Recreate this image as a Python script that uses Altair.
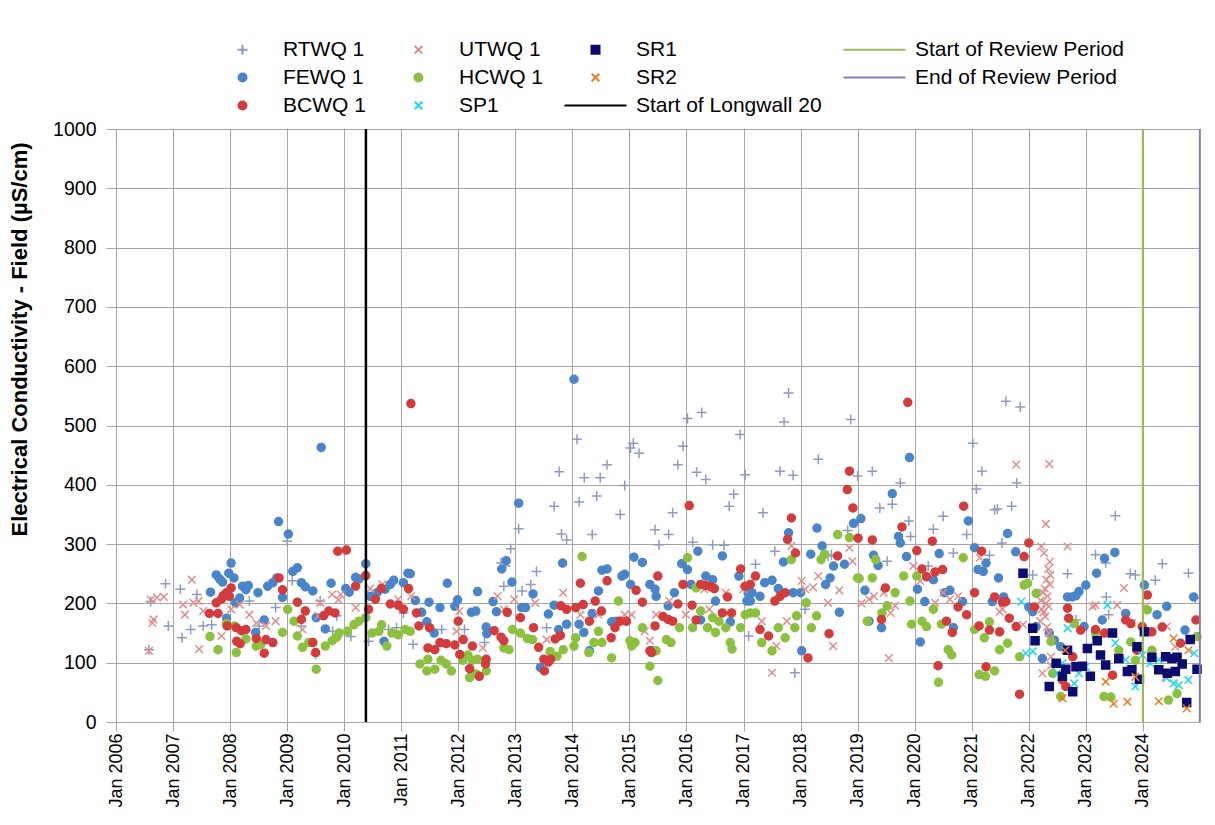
import altair as alt
import pandas as pd

# ---------------- data (decimal year, µS/cm) ----------------
RTWQ = [(2006.58,122),(2006.61,203),(2006.87,233),(2006.92,162),(2007.13,224),(2007.16,142),(2007.31,156),
        (2007.42,215),(2007.53,162),(2007.68,164),(2008.34,204),(2008.51,162),(2008.80,193),(2009.00,305),
        (2009.09,238),(2009.25,162),(2009.50,114),(2009.58,204),(2009.80,153),(2009.87,179),(2010.12,144),
        (2010.43,136),(2010.78,156),(2010.92,159),(2011.04,184),(2011.21,131),(2011.71,156),(2012.11,156),
        (2012.46,134),(2012.75,268),(2012.80,229),(2012.83,263),(2012.92,292),(2013.06,326),(2013.12,221),
        (2013.27,232),(2013.37,254),(2013.55,159),(2013.68,364),(2013.77,422),(2013.81,317),(2013.90,307),
        (2014.08,477),(2014.12,371),(2014.21,412),(2014.35,316),(2014.43,381),(2014.49,412),(2014.61,434),
        (2014.84,350),(2014.92,399),(2015.02,462),(2015.07,470),(2015.17,453),(2015.45,324),(2015.52,299),
        (2015.69,316),(2015.76,353),(2015.85,434),(2015.94,465),(2016.02,512),(2016.11,303),(2016.18,421),
        (2016.27,522),(2016.34,409),(2016.46,299),(2016.66,298),(2016.75,364),(2016.83,384),(2016.94,485),
        (2017.03,417),(2017.09,145),(2017.21,266),(2017.34,353),(2017.55,288),(2017.64,423),(2017.71,506),
        (2017.79,555),(2017.87,416),(2017.90,83),(2018.08,190),(2018.31,443),(2018.48,280),(2018.54,282),
        (2018.83,323),(2018.88,510),(2019.00,415),(2019.26,423),(2019.39,361),(2019.52,271),(2019.61,367),
        (2019.75,403),(2019.90,339),(2019.93,313),(2020.24,263),(2020.33,325),(2020.50,347),(2020.68,285),
        (2020.91,316),(2021.02,470),(2021.08,393),(2021.18,423),(2021.31,281),(2021.40,358),(2021.45,359),
        (2021.53,302),(2021.60,541),(2021.70,364),(2021.79,403),(2021.85,531),(2022.07,248),(2022.68,250),
        (2022.83,172),(2023.17,282),(2023.35,268),(2023.36,211),(2023.40,181),(2023.52,348),(2023.78,250),
        (2023.87,248),(2024.22,239),(2024.34,267),(2024.80,251),(2024.92,209)]

FEWQ = [(2007.66,219),(2007.76,248),(2007.82,241),(2007.87,236),(2007.94,175),(2007.98,251),(2008.02,268),
        (2008.07,243),(2008.10,201),(2008.17,209),(2008.22,229),(2008.28,223),(2008.32,230),(2008.45,151),
        (2008.49,218),(2008.60,172),(2008.66,229),(2008.75,235),(2008.82,243),(2008.85,338),(2008.92,210),
        (2009.02,317),(2009.10,254),(2009.18,260),(2009.25,235),(2009.32,228),(2009.45,221),(2009.51,176),
        (2009.60,463),(2009.67,157),(2009.77,234),(2010.03,225),(2010.09,219),(2010.20,244),(2010.26,241),
        (2010.38,267),(2010.46,212),(2010.58,218),(2010.70,136),(2010.72,224),(2010.81,232),(2010.87,239),
        (2011.04,235),(2011.12,251),(2011.16,250),(2011.25,205),(2011.36,185),(2011.45,169),(2011.49,202),
        (2011.58,150),(2011.68,193),(2011.81,234),(2011.94,195),(2011.99,206),(2012.23,185),(2012.31,187),
        (2012.34,220),(2012.49,160),(2012.50,149),(2012.61,203),(2012.67,186),(2012.76,258),(2012.84,272),
        (2012.94,236),(2013.06,369),(2013.11,193),(2013.18,193),(2013.31,216),(2013.44,92),(2013.58,182),
        (2013.68,197),(2013.76,156),(2013.83,268),(2013.90,165),(2014.03,578),(2014.12,165),(2014.20,151),
        (2014.30,120),(2014.35,183),(2014.46,221),(2014.52,256),(2014.61,258),(2014.69,169),(2014.78,170),
        (2014.87,246),(2014.92,249),(2015.02,232),(2015.08,278),(2015.23,269),(2015.36,232),(2015.40,120),
        (2015.45,224),(2015.47,212),(2015.68,196),(2015.79,218),(2015.92,267),(2016.02,257),(2016.08,232),
        (2016.20,288),(2016.25,172),(2016.34,246),(2016.46,240),(2016.51,204),(2016.63,280),(2016.77,169),
        (2016.92,246),(2017.06,204),(2017.08,218),(2017.12,204),(2017.15,218),(2017.29,212),(2017.37,235),
        (2017.50,239),(2017.61,225),(2017.70,270),(2017.79,319),(2017.87,218),(2018.00,218),(2018.02,120),
        (2018.18,283),(2018.29,327),(2018.38,297),(2018.44,232),(2018.52,243),(2018.58,263),(2018.68,185),
        (2018.77,266),(2018.93,335),(2019.06,343),(2019.13,222),(2019.20,170),(2019.28,281),(2019.36,264),
        (2019.42,159),(2019.61,385),(2019.72,313),(2019.75,302),(2019.86,279),(2019.91,446),(2020.05,224),
        (2020.10,135),(2020.18,203),(2020.33,240),(2020.43,284),(2020.53,218),(2020.62,222),(2020.68,159),
        (2020.84,203),(2020.94,339),(2021.05,294),(2021.11,257),(2021.20,254),(2021.25,268),(2021.36,203),
        (2021.47,243),(2021.56,211),(2021.63,318),(2021.77,287),(2022.00,194),(2022.07,186),(2022.13,161),
        (2022.24,107),(2022.36,150),(2022.45,138),(2022.56,127),(2022.68,211),(2022.76,211),(2022.83,213),
        (2022.88,220),(2022.97,161),(2023.00,231),(2023.19,251),(2023.29,172),(2023.33,276),(2023.51,286),
        (2023.70,183),(2024.03,231),(2024.25,181),(2024.42,195),(2024.74,155),(2024.89,211)]

UTWQ = [(2006.58,120),(2006.61,206),(2006.64,167),(2006.66,173),(2006.72,210),(2006.84,211),(2007.18,198),
        (2007.21,181),(2007.33,240),(2007.36,201),(2007.45,204),(2007.46,123),(2007.53,187),(2007.85,145),
        (2008.02,190),(2008.17,198),(2008.34,181),(2008.46,167),(2008.63,162),(2008.80,170),(2009.27,156),
        (2009.55,179),(2009.58,201),(2009.79,215),(2009.90,206),(2009.94,215),(2010.20,193),(2010.46,225),
        (2010.67,232),(2010.95,207),(2011.18,212),(2011.97,153),(2012.02,187),(2012.17,106),(2012.43,125),
        (2012.69,212),(2012.80,190),(2012.98,207),(2013.35,201),(2013.55,139),(2013.84,218),(2014.14,181),
        (2014.46,181),(2014.92,181),(2015.04,181),(2015.27,153),(2015.36,137),(2015.47,181),(2015.70,204),
        (2015.99,181),(2016.31,224),(2016.40,190),(2016.69,218),(2017.00,224),(2017.32,170),(2017.50,83),
        (2017.58,128),(2017.76,170),(2017.84,297),(2018.02,238),(2018.08,224),(2018.22,227),(2018.31,246),
        (2018.48,201),(2018.57,128),(2018.68,222),(2018.86,294),(2018.91,271),(2019.07,200),(2019.20,207),
        (2019.29,212),(2019.46,218),(2019.55,108),(2019.58,184),(2019.66,196),(2019.98,263),(2020.10,238),
        (2020.36,201),(2020.50,218),(2020.62,207),(2020.76,212),(2021.14,277),(2021.49,186),(2021.54,190),
        (2021.78,434),(2021.90,164),(2022.20,170),(2022.21,205),(2022.22,296),(2022.23,190),(2022.24,82),
        (2022.25,218),(2022.26,185),(2022.27,285),(2022.28,225),(2022.29,178),(2022.30,334),(2022.30,200),
        (2022.31,240),(2022.32,160),(2022.33,212),(2022.34,258),(2022.35,195),(2022.36,435),(2022.36,150),
        (2022.37,270),(2022.37,232),(2022.38,140),(2022.38,248),(2022.39,110),(2022.39,95),(2022.68,296),
        (2023.12,195),(2023.17,197),(2023.55,197),(2023.67,226),(2023.81,167),(2024.05,195),(2024.40,76),
        (2024.42,161),(2024.57,127)]

HCWQ = [(2007.65,144),(2007.79,122),(2007.94,166),(2008.08,162),(2008.11,117),(2008.28,140),(2008.46,128),
        (2008.54,131),(2008.92,151),(2009.01,190),(2009.12,170),(2009.18,145),(2009.27,126),(2009.38,134),
        (2009.51,89),(2009.67,128),(2009.79,137),(2009.87,143),(2009.91,150),(2010.06,153),(2010.17,164),
        (2010.26,170),(2010.38,176),(2010.49,150),(2010.61,153),(2010.66,164),(2010.75,128),(2010.84,150),
        (2010.95,147),(2011.07,156),(2011.16,153),(2011.33,98),(2011.45,86),(2011.47,106),(2011.59,89),
        (2011.70,104),(2011.79,98),(2011.88,86),(2012.08,104),(2012.17,113),(2012.20,75),(2012.25,104),
        (2012.31,81),(2012.34,106),(2012.49,86),(2012.80,125),(2012.89,122),(2012.95,156),(2013.09,150),
        (2013.21,141),(2013.30,139),(2013.61,119),(2013.73,111),(2013.84,122),(2014.03,128),(2014.06,142),
        (2014.17,279),(2014.29,117),(2014.38,134),(2014.46,153),(2014.52,134),(2014.69,108),(2014.81,204),
        (2015.01,137),(2015.04,128),(2015.10,134),(2015.23,159),(2015.36,94),(2015.47,120),(2015.50,70),
        (2015.65,139),(2015.73,134),(2015.88,159),(2016.02,277),(2016.11,159),(2016.17,226),(2016.25,187),
        (2016.37,159),(2016.46,176),(2016.51,151),(2016.57,170),(2016.69,159),(2016.77,134),(2016.80,123),
        (2016.95,159),(2017.03,181),(2017.12,184),(2017.21,184),(2017.32,134),(2017.50,120),(2017.61,159),
        (2017.73,142),(2017.84,274),(2017.90,159),(2017.93,179),(2018.10,201),(2018.19,159),(2018.28,179),
        (2018.36,274),(2018.42,283),(2018.65,316),(2018.86,311),(2019.00,243),(2019.03,242),(2019.17,170),
        (2019.26,243),(2019.32,274),(2019.43,184),(2019.52,196),(2019.66,218),(2019.81,246),(2019.92,204),
        (2019.95,165),(2020.04,246),(2020.13,170),(2020.21,161),(2020.33,190),(2020.42,67),(2020.47,165),
        (2020.59,122),(2020.65,113),(2020.85,277),(2021.05,156),(2021.13,80),(2021.22,142),(2021.24,77),
        (2021.31,169),(2021.40,86),(2021.49,122),(2021.63,133),(2021.84,110),(2021.92,231),(2021.98,234),
        (2022.13,217),(2022.39,136),(2022.42,82),(2022.56,43),(2022.80,166),(2023.17,150),(2023.32,43),
        (2023.44,42),(2023.58,121),(2023.79,135),(2023.87,104),(2024.08,189),(2024.16,121),(2024.45,37),
        (2024.60,48),(2024.95,144)]

BCWQ = [(2007.64,183),(2007.76,201),(2007.79,183),(2007.85,207),(2007.88,213),(2007.94,218),(2007.95,162),
        (2007.99,212),(2008.02,226),(2008.11,159),(2008.12,136),(2008.18,132),(2008.20,154),(2008.28,156),
        (2008.46,141),(2008.60,116),(2008.63,139),(2008.75,134),(2008.86,243),(2008.92,223),(2009.18,202),
        (2009.25,173),(2009.32,187),(2009.45,134),(2009.50,117),(2009.64,179),(2009.73,187),(2009.84,184),
        (2009.89,288),(2010.04,290),(2010.20,229),(2010.38,247),(2010.43,190),(2010.55,207),(2010.65,225),
        (2010.81,199),(2010.95,197),(2011.04,190),(2011.13,225),(2011.17,537),(2011.27,184),(2011.31,162),
        (2011.47,125),(2011.50,159),(2011.59,122),(2011.68,134),(2011.79,132),(2011.94,130),(2012.00,170),
        (2012.03,114),(2012.09,139),(2012.20,90),(2012.25,128),(2012.37,77),(2012.48,98),(2012.49,106),
        (2012.63,154),(2012.75,143),(2012.80,137),(2012.86,185),(2013.09,176),(2013.32,159),(2013.41,126),
        (2013.50,106),(2013.51,86),(2013.58,101),(2013.62,106),(2013.70,140),(2013.79,146),(2013.80,196),
        (2013.90,190),(2014.06,193),(2014.14,234),(2014.19,198),(2014.30,170),(2014.40,204),(2014.51,187),
        (2014.61,238),(2014.68,142),(2014.75,159),(2014.84,170),(2014.95,170),(2015.12,222),(2015.23,202),
        (2015.36,120),(2015.39,117),(2015.45,162),(2015.50,246),(2015.59,178),(2015.68,173),(2015.76,170),
        (2015.85,199),(2015.94,232),(2016.05,365),(2016.10,197),(2016.17,172),(2016.25,232),(2016.34,230),
        (2016.43,228),(2016.49,225),(2016.63,184),(2016.72,211),(2016.79,184),(2016.95,258),(2017.03,229),
        (2017.12,232),(2017.21,246),(2017.29,156),(2017.44,145),(2017.55,204),(2017.64,212),(2017.73,218),
        (2017.77,308),(2017.84,344),(2017.91,285),(2018.13,108),(2018.50,149),(2018.65,280),(2018.82,392),
        (2018.86,423),(2018.92,361),(2019.01,310),(2019.26,307),(2019.42,173),(2019.49,226),(2019.78,329),
        (2019.88,539),(2020.04,289),(2020.13,258),(2020.21,245),(2020.31,305),(2020.36,253),(2020.41,95),
        (2020.49,257),(2020.56,170),(2020.66,151),(2020.76,194),(2020.86,364),(2020.91,181),(2021.05,218),
        (2021.13,162),(2021.17,288),(2021.25,93),(2021.31,155),(2021.40,211),(2021.49,152),(2021.54,202),
        (2021.60,203),(2021.66,175),(2021.78,161),(2021.84,47),(2021.92,279),(2022.00,302),(2022.10,194),
        (2022.59,71),(2022.65,60),(2022.68,192),(2022.70,175),(2022.77,110),(2022.91,155),(2023.17,156),
        (2023.33,150),(2023.47,79),(2023.70,172),(2023.79,166),(2023.90,121),(2023.99,161),(2024.08,214),
        (2024.16,152),(2024.34,160),(2024.66,133),(2024.93,172)]

SP1 = [(2021.87,203),(2021.95,116),(2022.07,119),(2022.50,82),(2022.59,99),(2022.68,158),(2022.80,65),
       (2022.88,82),(2023.00,93),(2023.17,136),(2023.38,197),(2023.52,133),(2023.70,105),(2023.87,60),
       (2023.99,113),(2024.13,99),(2024.28,105),(2024.42,74),(2024.54,65),(2024.63,62),(2024.80,71),
       (2024.90,116)]

SR1 = [(2021.90,251),(2022.07,158),(2022.11,137),(2022.36,60),(2022.48,99),(2022.59,77),(2022.65,89),
       (2022.68,121),(2022.77,51),(2022.83,93),(2022.94,94),(2023.03,124),(2023.08,77),(2023.20,137),
       (2023.26,113),(2023.35,96),(2023.47,150),(2023.58,107),(2023.73,85),(2023.81,88),(2023.90,127),
       (2023.94,72),(2024.03,152),(2024.16,109),(2024.28,88),(2024.40,110),(2024.43,82),(2024.51,107),
       (2024.57,85),(2024.60,109),(2024.69,98),(2024.77,33),(2024.83,139),(2024.95,89)]

SR2 = [(2022.59,40),(2022.64,121),(2023.35,68),(2023.49,31),(2023.73,34),(2023.87,76),(2024.28,35),
       (2024.54,141),(2024.77,23),(2024.80,121)]

EVENT_NAMES = ["Start of Longwall 20", "Start of Review Period", "End of Review Period"]
EVENT_DATES = ["2010-05-20", "2024-01-01", "2024-12-31"]
EVENT_COLORS = ["#000000", "#9bbb59", "#8080b0"]
EVENT_WIDTHS = [2.5, 2, 2]

YEAR_TICKS = list(range(2006, 2025))

# legend order (Vega fills the 4-column grid column by column, 3 rows)
LEGEND_ORDER = ["RTWQ 1", "FEWQ 1", "BCWQ 1",
                "UTWQ 1", "HCWQ 1", "SP1",
                "SR1", "SR2", "Start of Longwall 20",
                "Start of Review Period", "End of Review Period"]

# every symbol path starts with the same invisible move so all legend cells share the same left extent
PAD = "M-7.75,0"
PLUS = PAD + "M-1.25,0L1.25,0M0,-1.25L0,1.25"
CROSS = PAD + "M-0.95,-0.95L0.95,0.95M-0.95,0.95L0.95,-0.95"
CIRCLE = PAD + "M1,0A1,1,0,1,1,-1,0A1,1,0,1,1,1,0Z"
SQUARE = PAD + "M-1,-1L1,-1L1,1L-1,1Z"
LINE = "M-7.75,0L7.75,0"
STYLE = {
    "RTWQ 1": ("#8e9cc4", PLUS),
    "UTWQ 1": ("#df8f8b", CROSS),
    "SR1": ("#0b0b70", SQUARE),
    "Start of Review Period": ("#9bbb59", LINE),
    "FEWQ 1": ("#4a85c9", CIRCLE),
    "HCWQ 1": ("#8cc140", CIRCLE),
    "SR2": ("#f07a1e", CROSS),
    "End of Review Period": ("#8080b0", LINE),
    "BCWQ 1": ("#d23c3c", CIRCLE),
    "SP1": ("#1ed6f2", CROSS),
    "Start of Longwall 20": ("#000000", LINE),
}


def to_date(t):
    y = int(t)
    start = pd.Timestamp(year=y, month=1, day=1)
    end = pd.Timestamp(year=y + 1, month=1, day=1)
    return (start + (end - start) * (t - y)).strftime("%Y-%m-%d")


rows = []
for name, series in [("RTWQ 1", RTWQ), ("FEWQ 1", FEWQ), ("UTWQ 1", UTWQ), ("HCWQ 1", HCWQ),
                     ("BCWQ 1", BCWQ), ("SP1", SP1), ("SR1", SR1), ("SR2", SR2)]:
    for t, v in series:
        rows.append({"date": to_date(t), "value": v, "series": name})
pts = pd.DataFrame(rows)

events = pd.DataFrame({"date": EVENT_DATES, "name": EVENT_NAMES,
                       "color": EVENT_COLORS, "width": EVENT_WIDTHS})

color_range = [STYLE[k][0] for k in LEGEND_ORDER]
shape_range = [STYLE[k][1] for k in LEGEND_ORDER]

FONT = "Liberation Sans"

xscale = alt.Scale(type="utc",
                   domain=[alt.DateTime(year=2006, month=1, date=1, utc=True),
                           alt.DateTime(year=2025, month=1, date=1, utc=True)])
xaxis = alt.Axis(values=[alt.DateTime(year=y, month=1, date=1, utc=True) for y in YEAR_TICKS],
                 format="%b %Y", labelAngle=-90, title=None, tickSize=9,
                 labelPadding=2, labelFontSize=18, grid=True)

leg = alt.Legend(title=None, orient="none", legendX=116, legendY=-90,
                 columns=4, columnPadding=17, rowPadding=6, labelLimit=0,
                 labelOffset=30, symbolSize=64, symbolStrokeWidth=2, labelFontSize=21)

points = alt.Chart(pts).mark_point(filled=True, size=64, strokeWidth=1.5, opacity=1).encode(
    x=alt.X("date:T", scale=xscale, axis=xaxis),
    y=alt.Y("value:Q", scale=alt.Scale(domain=[0, 1000], nice=False),
            axis=alt.Axis(values=list(range(0, 1001, 100)), format="d", tickSize=10,
                          labelPadding=10, labelFontSize=19.5,
                          title="Electrical Conductivity - Field (µS/cm)",
                          titlePadding=21, titleY=210, domain=False)),
    fill=alt.Fill("series:N", scale=alt.Scale(domain=LEGEND_ORDER, range=color_range), legend=leg),
    stroke=alt.Stroke("series:N", scale=alt.Scale(domain=LEGEND_ORDER, range=color_range), legend=leg),
    shape=alt.Shape("series:N", scale=alt.Scale(domain=LEGEND_ORDER, range=shape_range), legend=leg),
)

rules = alt.Chart(events).mark_rule().encode(
    x=alt.X("date:T", scale=xscale, axis=xaxis),
    stroke=alt.Stroke("color:N", scale=None),
    strokeWidth=alt.StrokeWidth("width:Q", scale=None),
)

chart = alt.layer(points, rules).properties(
    width=1084, height=593,
    padding={"left": 0, "top": 31, "right": 0, "bottom": 0},
).configure_view(stroke=None).configure_axis(
    labelFont=FONT, titleFont=FONT, titleFontSize=22,
    titleFontWeight="bold", labelColor="#000000", titleColor="#000000",
    gridColor="#a6a6a6", gridWidth=1, tickColor="#a6a6a6", domainColor="#a6a6a6",
).configure_legend(
    labelFont=FONT, labelColor="#000000", padding=0,
)

chart.save("out.html", embed_options={"renderer": "svg", "actions": False})
